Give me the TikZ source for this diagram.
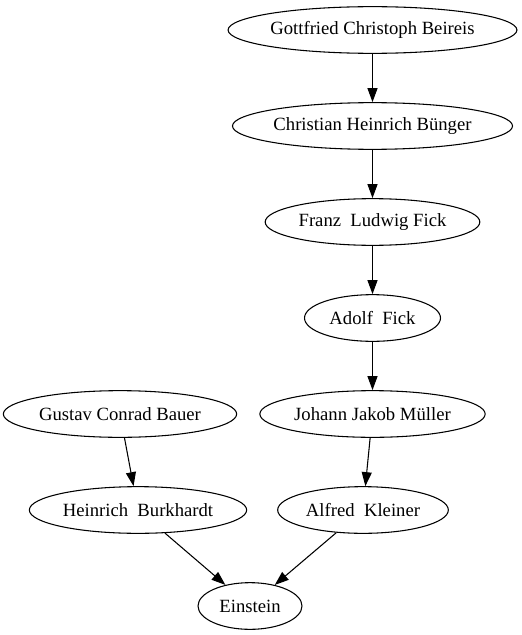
\documentclass[tikz,border=0pt]{standalone}
\usepackage{fontspec}
\setmainfont{Liberation Serif}
\usetikzlibrary{shapes.geometric, arrows.meta}

\begin{document}
\begin{tikzpicture}[x=0.75pt, y=-0.75pt,
        person/.style={draw, ellipse, line width=0.8pt, inner sep=0pt, minimum height=35pt, font=\fontsize{14}{16}\selectfont},
        link/.style={-{Triangle[length=10.5pt, width=7.5pt]}, line width=0.8pt}]
        \useasboundingbox (0, 0) rectangle (521, 635);

        \node [person, minimum width=214.5pt] (beireis) at (372.5, 30) {Gottfried Christoph Beireis};
        \node [person, minimum width=209pt] (buenger) at (372.5, 126) {Christian Heinrich Bünger};
        \node [person, minimum width=161pt] (franzfick) at (372.5, 222) {Franz~~Ludwig Fick};
        \node [person, minimum width=102pt] (adolffick) at (372.5, 318) {Adolf~~Fick};
        \node [person, minimum width=169pt] (mueller) at (372.5, 414) {Johann Jakob Müller};
        \node [person, minimum width=175pt] (bauer) at (120, 414) {Gustav Conrad Bauer};
        \node [person, minimum width=163pt] (burkhardt) at (138, 510) {Heinrich~~Burkhardt};
        \node [person, minimum width=128pt] (kleiner) at (363, 510) {Alfred~~Kleiner};
        \node [person, minimum width=78pt] (einstein) at (250, 606) {Einstein};

        \draw [link] (beireis) -- (buenger);
        \draw [link] (buenger) -- (franzfick);
        \draw [link] (franzfick) -- (adolffick);
        \draw [link] (adolffick) -- (mueller);
        \draw [link] (mueller) -- (kleiner);
        \draw [link] (bauer) -- (burkhardt);
        \draw [link] (burkhardt) -- (einstein);
        \draw [link] (kleiner) -- (einstein);
    \end{tikzpicture}
\end{document}
